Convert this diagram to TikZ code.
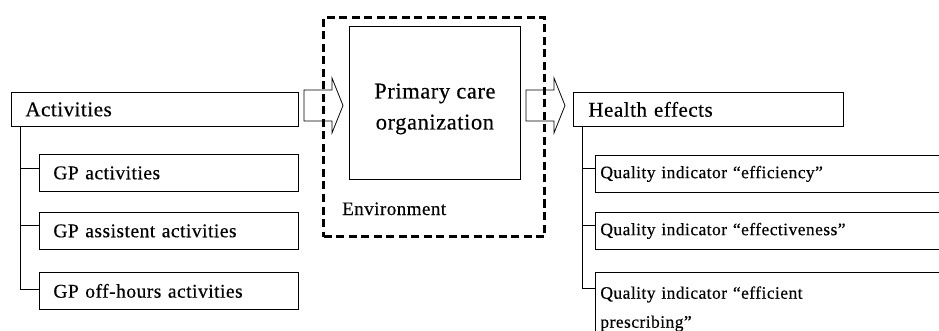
\documentclass[tikz,border=0pt]{standalone}
\usepackage{fontspec}
\setmainfont{Liberation Serif}[FakeBold=0.35, LetterSpace=2.5]
\usetikzlibrary{positioning}

\newcommand{\fatarrow}[1]{%
  \draw[boxline] (#1) ++(0,-15.5) -- ++(28,0) -- ++(0,-12) -- ++(11,27.5)
    -- ++(-11,27.5) -- ++(0,-12) -- ++(-28,0) -- cycle;}

\begin{document}
\begin{tikzpicture}[
    x=1pt, y=-1pt,
    boxline/.style={draw, line width=0.8pt},
    listbox/.style={boxline, anchor=north west, align=left, inner ysep=0pt},
    headbox/.style={listbox, inner xsep=14pt, minimum height=34pt,
                    font=\fontsize{21}{25}\selectfont},
    gpbox/.style={listbox, text width=231pt, inner xsep=14pt, minimum height=37pt,
                  font=\fontsize{19.5}{23}\selectfont},
    qibox/.style={listbox, text width=355pt, inner xsep=5pt, minimum height=37pt,
                  font=\fontsize{17.5}{29}\selectfont},
    branch/.style={line width=0.8pt}
  ]
  \clip (0,0) rectangle (939,331);
  \fill[white] (0,0) rectangle (939,331);

  % input side
  \node[headbox, text width=259pt] (act) at (11,92) {Activities};
  \node[gpbox] (gp)  at (39,154) {GP activities};
  \node[gpbox] (gpa) at (39,212) {GP assistent activities};
  \node[gpbox] (gpo) at (39,272) {GP off-hours activities};

  \draw[branch] ([xshift=9pt]act.south west) |- ([yshift=-17pt]gpo.north west);
  \draw[branch] ([xshift=9pt]act.south west) |- ([yshift=-14pt]gp.north west);
  \draw[branch] ([xshift=9pt]act.south west) |- ([yshift=-13pt]gpa.north west);

  % organization in its environment
  \node[draw, line width=3pt, dash pattern=on 8pt off 4.5pt, anchor=north west,
        minimum width=221pt, minimum height=219pt] (env) at (322,16) {};
  \node[boxline, anchor=north west, minimum width=171pt, minimum height=153pt,
        align=center, font=\fontsize{22.5}{31}\selectfont] (org) at (349,26)
        {\\[-4pt]Primary care\\organization};
  \node[anchor=base west, inner sep=0pt, font=\fontsize{19}{23}\selectfont]
        (envtext) at (342,215) {Environment};

  \coordinate (inarrow) at (304,105.5);
  \coordinate (outarrow) at (526,105.5);
  \fatarrow{inarrow}
  \fatarrow{outarrow}

  % output side
  \node[headbox, text width=240pt, inner xsep=15pt] (health) at (573,92) {Health effects};
  \node[qibox] (qeff)  at (595,155) {Quality indicator “efficiency”};
  \node[qibox] (qefv)  at (595,212) {Quality indicator “effectiveness”};
  \node[qibox, inner ysep=14pt] (qpres) at (595,272)
        {Quality indicator “efficient\\prescribing”};

  \draw[branch] ([xshift=9pt]health.south west) |- ([yshift=-16pt]qpres.north west);
  \draw[branch] ([xshift=9pt]health.south west) |- ([yshift=-13pt]qeff.north west);
  \draw[branch] ([xshift=9pt]health.south west) |- ([yshift=-13pt]qefv.north west);
\end{tikzpicture}
\end{document}
